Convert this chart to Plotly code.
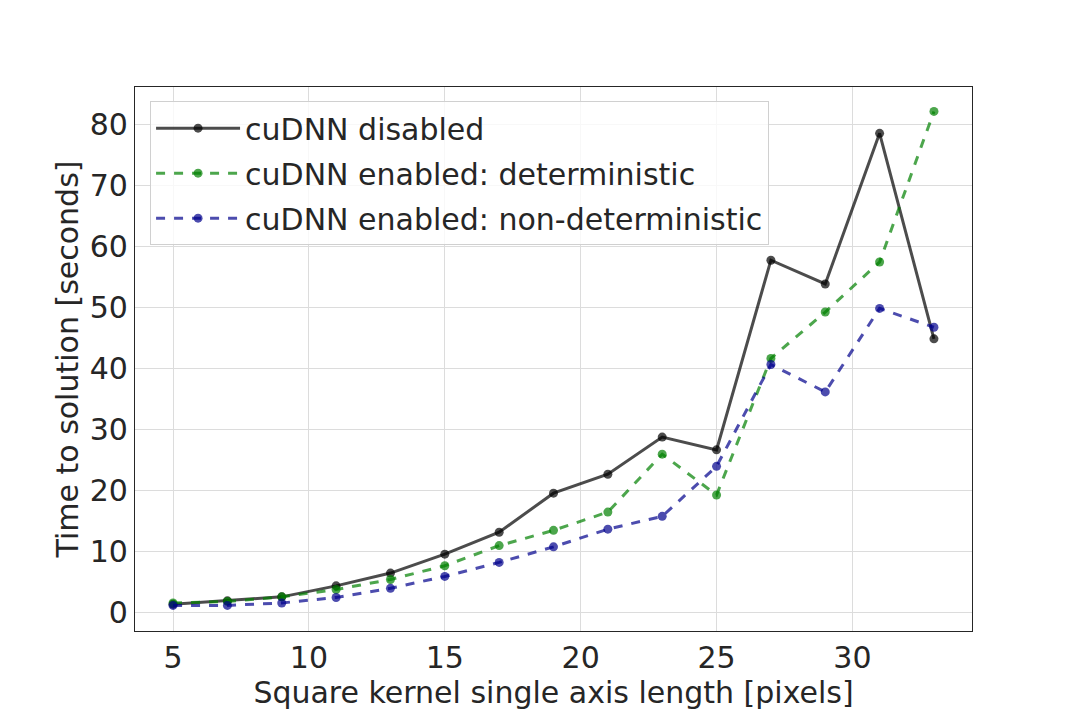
import plotly.graph_objects as go

kernel = [5, 7, 9, 11, 13, 15, 17, 19, 21, 23, 25, 27, 29, 31, 33]
disabled = [1.3, 1.85, 2.5, 4.3, 6.4, 9.5, 13.1, 19.5, 22.6, 28.7, 26.6, 57.7, 53.8, 78.5, 44.8]
deterministic = [1.5, 1.75, 2.5, 3.7, 5.35, 7.6, 10.9, 13.4, 16.4, 25.9, 19.2, 41.6, 49.2, 57.4, 82.1]
nondeterministic = [1.1, 1.1, 1.5, 2.4, 3.9, 5.85, 8.15, 10.7, 13.6, 15.7, 23.9, 40.6, 36.1, 49.8, 46.7]

names = ["cuDNN disabled", "cuDNN enabled: deterministic", "cuDNN enabled: non-deterministic"]
series = [disabled, deterministic, nondeterministic]
colors = ["rgba(0,0,0,0.7)", "rgba(0,128,0,0.7)", "rgba(0,0,139,0.7)"]
dashes = ["solid", "dash", "dash"]

fig = go.Figure()
for i, (n, ys, c, d) in enumerate(zip(names, series, colors, dashes)):
    fig.add_trace(go.Scatter(
        x=kernel, y=ys, name=n, mode="lines+markers",
        line=dict(color=c, width=3, dash=d),
        marker=dict(color=c, size=9),
        legendgroup=f"g{i}",
    ))

axis_common = dict(
    showgrid=True, gridcolor="#dcdcdc", gridwidth=1,
    showline=True, linecolor="#262626", linewidth=1.2, mirror=True,
    zeroline=False, ticks="",
    tickfont=dict(size=30, color="#262626", family="DejaVu Sans"),
)

fig.update_layout(
    width=1080, height=720,
    paper_bgcolor="white", plot_bgcolor="white",
    margin=dict(l=127, r=116, t=79, b=97),
    font=dict(family="DejaVu Sans", color="#262626"),
    xaxis=dict(range=[3.6, 34.4], tickvals=[5, 10, 15, 20, 25, 30],
               title=dict(text="Square kernel single axis length [pixels]",
                          font=dict(size=30, color="#262626"), standoff=4),
               **axis_common),
    yaxis=dict(range=[-3.1, 86.1], tickvals=[0, 10, 20, 30, 40, 50, 60, 70, 80],
               title=dict(text="Time to solution [seconds]",
                          font=dict(size=30, color="#262626"), standoff=2),
               **axis_common),
    legend=dict(x=0.018, y=0.974, xanchor="left", yanchor="top",
                bgcolor="rgba(255,255,255,0.8)", bordercolor="#d0d0d0", borderwidth=1,
                font=dict(size=30, color="#262626", family="DejaVu Sans"),
                tracegroupgap=3, itemwidth=84),
    showlegend=True,
)

fig.write_html("out.html")
